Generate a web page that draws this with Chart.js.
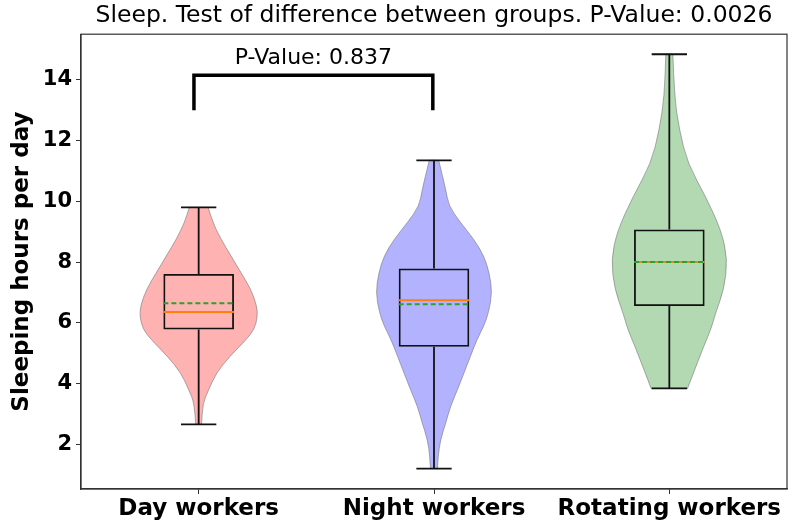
<!DOCTYPE html>
<html>
<head>
<meta charset="utf-8">
<script src="https://cdn.jsdelivr.net/npm/chart.js@4"></script>
<style>
  html, body { margin: 0; padding: 0; background: #fff; }
  #wrap { width: 800px; height: 529px; }
</style>
</head>
<body>
<div id="wrap"><canvas id="canvasPanel"></canvas></div>
<script>
var CATEGORIES = ['Day workers', 'Night workers', 'Rotating workers'];
var Q1 = [5.78, 5.21, 6.55];
var Q3 = [7.61, 7.79, 9.07];
var MEDIANS = [6.36, 6.74, 8.0];
var MEANS = [6.64, 6.61, 8.0];
var WHISKER_LOW = [2.66, 1.2, 3.84];
var WHISKER_HIGH = [9.8, 11.35, 14.84];
var Y_TICKS = [2, 4, 6, 8, 10, 12, 14];

// violin outlines: hours and relative half width (1 = widest)
var DAY_Y = [9.8, 9.3, 8.75, 8.2, 7.65, 7.1, 6.55, 6.2, 5.8, 5.45, 4.9, 4.35, 3.8, 3.35, 2.66];
var DAY_W = [0.16, 0.24, 0.38, 0.55, 0.72, 0.89, 0.99, 1.0, 0.95, 0.81, 0.53, 0.30, 0.17, 0.07, 0.05];
var NIGHT_Y = [11.35, 10.4, 9.85, 9.3, 8.75, 8.2, 7.65, 7.0, 6.35, 5.9, 5.45, 4.9, 4.35, 3.8, 3.25, 2.7, 2.15, 1.6, 1.2];
var NIGHT_W = [0.08, 0.2, 0.25, 0.45, 0.68, 0.85, 0.94, 0.99, 0.93, 0.85, 0.73, 0.62, 0.51, 0.40, 0.28, 0.20, 0.11, 0.07, 0.06];
var ROT_Y = [14.84, 13.45, 12.35, 11.25, 10.15, 9.05, 8.1, 7.1, 6.35, 5.8, 5.25, 4.7, 4.15, 3.84];
var ROT_W = [0.06, 0.085, 0.17, 0.31, 0.62, 0.88, 0.99, 0.93, 0.79, 0.71, 0.59, 0.48, 0.37, 0.31];

var PAIR_P = 'P-Value: 0.837';
var PAIR_Y = [13.0, 14.15];

var VIOLINS = [
  {y: DAY_Y, w: DAY_W, color: 'rgba(255,0,0,0.3)'},
  {y: NIGHT_Y, w: NIGHT_W, color: 'rgba(0,0,255,0.3)'},
  {y: ROT_Y, w: ROT_W, color: 'rgba(0,128,0,0.3)'}
];

function smoothPath(ctx, pts, first) {
  if (first) ctx.moveTo(pts[0][0], pts[0][1]);
  else ctx.lineTo(pts[0][0], pts[0][1]);
  for (var i = 1; i < pts.length - 1; i++) {
    var mx = (pts[i][0] + pts[i + 1][0]) / 2, my = (pts[i][1] + pts[i + 1][1]) / 2;
    ctx.quadraticCurveTo(pts[i][0], pts[i][1], mx, my);
  }
  ctx.lineTo(pts[pts.length - 1][0], pts[pts.length - 1][1]);
}

var violinPlugin = {
  id: 'violins',
  beforeDatasetsDraw: function(chart) {
    var ctx = chart.ctx, xs = chart.scales.x, ys = chart.scales.y;
    VIOLINS.forEach(function(v, i) {
      var right = [], left = [];
      for (var k = 0; k < v.y.length; k++) {
        right.push([xs.getPixelForValue(i + 0.25 * v.w[k]), ys.getPixelForValue(v.y[k])]);
        left.unshift([xs.getPixelForValue(i - 0.25 * v.w[k]), ys.getPixelForValue(v.y[k])]);
      }
      ctx.save();
      ctx.beginPath();
      smoothPath(ctx, right, true);
      smoothPath(ctx, left, false);
      ctx.closePath();
      ctx.fillStyle = v.color;
      ctx.fill();
      ctx.strokeStyle = 'rgba(110,110,110,0.55)';
      ctx.lineWidth = 1;
      ctx.stroke();
      ctx.restore();
    });
  },
  afterDatasetsDraw: function(chart) {
    var ctx = chart.ctx, xs = chart.scales.x, ys = chart.scales.y;
    ctx.save();
    for (var i = 0; i < CATEGORIES.length; i++) {
      var cx = xs.getPixelForValue(i);
      ctx.strokeStyle = '#111';
      ctx.lineWidth = 1.8;
      ctx.setLineDash([]);
      ctx.beginPath();
      ctx.moveTo(cx, ys.getPixelForValue(WHISKER_LOW[i]));
      ctx.lineTo(cx, ys.getPixelForValue(Q1[i]));
      ctx.moveTo(cx, ys.getPixelForValue(Q3[i]));
      ctx.lineTo(cx, ys.getPixelForValue(WHISKER_HIGH[i]));
      [WHISKER_LOW[i], WHISKER_HIGH[i]].forEach(function(v) {
        ctx.moveTo(xs.getPixelForValue(i - 0.075), ys.getPixelForValue(v));
        ctx.lineTo(xs.getPixelForValue(i + 0.075), ys.getPixelForValue(v));
      });
      ctx.stroke();
      var bl = xs.getPixelForValue(i - 0.15), br = xs.getPixelForValue(i + 0.15);
      ctx.strokeStyle = '#ff7f0e';
      ctx.lineWidth = 2;
      ctx.beginPath();
      ctx.moveTo(bl, ys.getPixelForValue(MEDIANS[i]));
      ctx.lineTo(br, ys.getPixelForValue(MEDIANS[i]));
      ctx.stroke();
      ctx.strokeStyle = '#2ca02c';
      ctx.setLineDash([5, 3]);
      ctx.beginPath();
      ctx.moveTo(bl, ys.getPixelForValue(MEANS[i]));
      ctx.lineTo(br, ys.getPixelForValue(MEANS[i]));
      ctx.stroke();
    }
    // bracket between day and night workers
    ctx.setLineDash([]);
    ctx.strokeStyle = '#000';
    ctx.lineWidth = 3.5;
    ctx.lineJoin = 'miter';
    var x1 = xs.getPixelForValue(-0.02), x2 = xs.getPixelForValue(0.995);
    ctx.beginPath();
    ctx.moveTo(x1, ys.getPixelForValue(PAIR_Y[0]));
    ctx.lineTo(x1, ys.getPixelForValue(PAIR_Y[1]));
    ctx.lineTo(x2, ys.getPixelForValue(PAIR_Y[1]));
    ctx.lineTo(x2, ys.getPixelForValue(PAIR_Y[0]));
    ctx.stroke();
    ctx.fillStyle = '#000';
    ctx.font = '22px "DejaVu Sans"';
    ctx.textAlign = 'center';
    ctx.textBaseline = 'middle';
    ctx.fillText(PAIR_P, (x1 + x2) / 2, ys.getPixelForValue(PAIR_Y[1]) - 17);
    ctx.restore();
  },
  afterDraw: function(chart) {
    var a = chart.chartArea, ctx = chart.ctx;
    ctx.save();
    ctx.strokeStyle = '#333';
    ctx.lineWidth = 1.2;
    ctx.strokeRect(a.left, a.top, a.right - a.left, a.bottom - a.top);
    ctx.restore();
  }
};

var config = {
  type: 'bar',
  data: {
    labels: CATEGORIES,
    datasets: [{
      label: 'box',
      data: Q1.map(function(q, i) { return [q, Q3[i]]; }),
      backgroundColor: 'rgba(0,0,0,0)',
      borderColor: '#111',
      borderWidth: 1.8,
      borderSkipped: false,
      barPercentage: 0.3,
      categoryPercentage: 1
    }]
  },
  options: {
    responsive: true,
    maintainAspectRatio: false,
    animation: false,
    layout: {padding: {left: 0, right: 13, top: 0, bottom: 0}},
    plugins: {
      legend: {display: false},
      tooltip: {enabled: false},
      title: {
        display: true,
        text: 'Sleep. Test of difference between groups. P-Value: 0.0026',
        fullSize: false,
        color: '#000',
        font: {family: 'DejaVu Sans', size: 23.5, weight: 'normal', lineHeight: 1.2},
        padding: {top: 2, bottom: 4}
      }
    },
    scales: {
      x: {
        grid: {display: true, drawOnChartArea: false, drawTicks: true, tickLength: 5, offset: false, color: '#333'},
        border: {display: true, color: '#333', width: 1.2},
        ticks: {color: '#000', padding: 1, font: {family: 'DejaVu Sans', size: 23, weight: 'bold'}},
        afterFit: function(s) { s.height = 40; }
      },
      y: {
        min: 0.53,
        max: 15.5,
        afterBuildTicks: function(s) { s.ticks = Y_TICKS.map(function(v) { return {value: v}; }); },
        grid: {display: true, drawOnChartArea: false, drawTicks: true, tickLength: 5, color: '#333'},
        border: {display: true, color: '#333', width: 1.2},
        ticks: {color: '#000', padding: 4, font: {family: 'DejaVu Sans', size: 21, weight: 'bold'}},
        title: {
          display: true,
          text: 'Sleeping hours per day',
          color: '#000',
          font: {family: 'DejaVu Sans', size: 23, weight: 'bold', lineHeight: 1.2},
          padding: {top: 8, bottom: 0}
        },
        afterFit: function(s) { s.width = 81; }
      }
    }
  },
  plugins: [violinPlugin]
};

window.onload = function() {
  var ctx = document.getElementById('canvasPanel').getContext('2d');
  window.myChart = new Chart(ctx, config);
};
</script>
</body>
</html>
